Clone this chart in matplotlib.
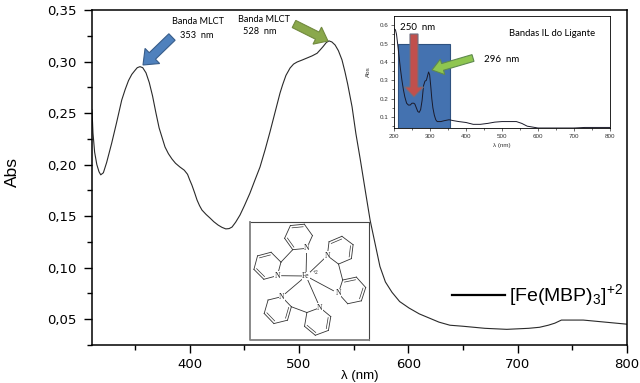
import numpy as np
import matplotlib
matplotlib.use('Agg')
import matplotlib.pyplot as plt
from matplotlib.patches import Rectangle, FancyArrow

# main spectrum
wl = [310.6, 311.5, 313, 315, 317, 318.6, 321, 324, 328.6, 333, 337.8, 341, 344, 347, 350, 352, 354.5, 357, 360, 363, 366, 369, 372,
      377.4, 380.5, 383.8, 387, 391, 395, 398, 400, 402, 404.5, 406.7, 409, 411.2, 415, 418.6, 422, 426, 429.5, 433, 436, 438.7, 442, 446, 450,
      455, 459.5, 464.3, 469, 473.4, 478, 482.6, 485, 488, 491.8, 495, 498.2, 503, 507.3, 512, 516.5, 519.5, 522, 525, 527.4, 530, 533, 536,
      539.3, 542, 544.5, 548.5, 552, 556, 561, 565, 570, 574, 579, 585, 592, 600.6, 610, 619, 628,
      638, 650, 660, 670, 680, 690, 700, 710, 720, 728, 734, 740, 750, 760, 770, 780, 790, 800]
abs_main = [0.253, 0.2306, 0.212, 0.200, 0.193, 0.190, 0.192, 0.202, 0.2207, 0.2403, 0.2626, 0.273, 0.2815, 0.2875, 0.2915, 0.2940, 0.295, 0.2940, 0.2890, 0.2795, 0.2665, 0.2505, 0.2355,
            0.217, 0.2105, 0.2053, 0.2012, 0.1976, 0.1945, 0.1905, 0.185, 0.180, 0.1725, 0.1655, 0.160, 0.1558, 0.1515, 0.148, 0.1445, 0.1412, 0.139, 0.1375, 0.1378, 0.1393, 0.144, 0.151, 0.160,
            0.172, 0.1845, 0.1976, 0.2145, 0.2316, 0.2505, 0.2694, 0.2775, 0.2865, 0.2937, 0.2975, 0.2995, 0.3015, 0.3034, 0.3055, 0.308, 0.3115, 0.3145, 0.3185, 0.320, 0.319, 0.316, 0.3105,
            0.3015, 0.290, 0.278, 0.256, 0.230, 0.205, 0.172, 0.146, 0.121, 0.101, 0.086, 0.076, 0.067, 0.0607, 0.055, 0.051, 0.047,
            0.044, 0.043, 0.042, 0.041, 0.0405, 0.040, 0.0405, 0.041, 0.042, 0.044, 0.046, 0.049, 0.049, 0.049, 0.048, 0.047, 0.046, 0.045]

# inset spectrum
wl_ins = [200, 204, 207, 210, 214, 218, 222, 226, 230, 235, 240, 245, 250, 255, 258, 262, 266, 270, 274, 278, 282, 286, 290,
          296, 299, 302, 305, 308, 312, 316, 320, 330, 340, 353, 365, 380, 400, 420, 440, 460, 480, 500, 520, 540, 555, 570, 585,
          600, 650, 700, 730, 800]
abs_ins = [0.58, 0.575, 0.55, 0.50, 0.43, 0.36, 0.30, 0.25, 0.21, 0.175, 0.165, 0.165, 0.175, 0.175, 0.17, 0.15, 0.13, 0.125, 0.14, 0.19, 0.27, 0.295, 0.30,
           0.345, 0.33, 0.27, 0.20, 0.15, 0.11, 0.085, 0.075, 0.075, 0.08, 0.085, 0.08, 0.075, 0.07, 0.06, 0.06, 0.065, 0.072, 0.075, 0.075, 0.075, 0.065, 0.05, 0.045,
           0.04, 0.04, 0.04, 0.043, 0.043]

x_ticks = [400, 500, 600, 700, 800]
x_labels = ['400', '500', '600', '700', '800']
y_ticks = [0.05, 0.10, 0.15, 0.20, 0.25, 0.30, 0.35]
y_labels = ['0,05', '0,10', '0,15', '0,20', '0,25', '0,30', '0,35']
ins_x_ticks = [200, 300, 400, 500, 600, 700, 800]
ins_y_ticks = [0.1, 0.2, 0.3, 0.4, 0.5, 0.6]

W, H = 640, 383
plt.rcParams['font.family'] = ['Liberation Sans', 'DejaVu Sans']
plt.rcParams['mathtext.default'] = 'regular'


def box(l, t, r, b):
    # pixel box -> figure fractions
    return [l / W, 1 - b / H, (r - l) / W, (b - t) / H]


fig = plt.figure(figsize=(6.4, 3.83), dpi=100)

# main plot
ax = fig.add_axes(box(92, 10, 627, 345))
ax.plot(wl, abs_main, color='#2a2a2a', lw=0.8)
ax.set_xlim(310.6, 800)
ax.set_ylim(0.0248, 0.35)
ax.set_xticks(x_ticks)
ax.set_xticklabels(x_labels, fontsize=9.5, family=['DejaVu Sans'])
ax.set_yticks(y_ticks)
ax.set_yticklabels(y_labels, fontsize=9.5, family=['DejaVu Sans'])
ax.set_xticks([350, 450, 550, 650, 750], minor=True)
ax.set_yticks([0.025, 0.075, 0.125, 0.175, 0.225, 0.275, 0.325], minor=True)
ax.tick_params(which='major', length=6, width=1, pad=5)
ax.tick_params(which='minor', length=3.8, width=1)
ax.tick_params(axis='x', which='major', pad=3.5)
for s in ax.spines.values():
    s.set_linewidth(1.1)

# inset
ins = fig.add_axes(box(394, 16, 610, 128), zorder=2)
ins.add_patch(Rectangle((211, 0.04), 144, 0.46, facecolor='#4472b0', edgecolor='#2f5280', lw=0.8, zorder=1))
ins.plot(wl_ins, abs_ins, color='#1a1a2a', lw=0.7, zorder=2)
ins.set_xlim(200, 800)
ins.set_ylim(0.04, 0.65)
ins.set_xticks(ins_x_ticks)
ins.set_yticks(ins_y_ticks)
ins.set_xticks([250, 350, 450, 550, 650, 750], minor=True)
ins.set_yticks([0.05, 0.15, 0.25, 0.35, 0.45, 0.55], minor=True)
ins.tick_params(labelsize=4.5, length=2.2, width=0.5, pad=2, colors='#333333')
ins.tick_params(which='minor', length=1.2, width=0.5, colors='#333333')
ins.set_xlabel('λ (nm)', fontsize=4.5, labelpad=3, color='#333333')
ins.set_ylabel('Abs', fontsize=4.5, labelpad=6, color='#333333')
for s in ins.spines.values():
    s.set_linewidth(0.6)

# overlay in pixel coordinates for the arrows, texts and the structure
ov = fig.add_axes([0, 0, 1, 1], zorder=3)
ov.set_xlim(0, W)
ov.set_ylim(H, 0)
ov.axis('off')
ov.patch.set_alpha(0)


def arrow(x0, y0, x1, y1, fc, ec, width=8, head=17, head_len=12):
    ov.add_patch(FancyArrow(x0, y0, x1 - x0, y1 - y0, width=width, head_width=head, head_length=head_len,
                            length_includes_head=True, facecolor=fc, edgecolor=ec, lw=0.8))


arrow(172, 37, 143, 65, '#4f81bd', '#385d8a', width=9, head=21, head_len=13)
arrow(294, 24, 328, 41, '#8aa84b', '#71893f', width=8, head=19, head_len=12)
arrow(414, 34, 414, 97, '#c0504d', '#6f6f80', width=8, head=19, head_len=10)
arrow(473, 58, 432, 70, '#8fc650', '#5f8a50', width=7, head=16, head_len=11)

label_font = ['Lato', 'DejaVu Sans']
ov.text(197.5, 21.5, 'Banda MLCT', fontsize=6.6, family=label_font, ha='center', va='center')
ov.text(196.5, 35, '353  nm', fontsize=6.6, family=label_font, ha='center', va='center')
ov.text(263.5, 19, 'Banda MLCT', fontsize=6.6, family=label_font, ha='center', va='center')
ov.text(259.5, 32, '528  nm', fontsize=6.6, family=label_font, ha='center', va='center')
ov.text(418, 27, '250  nm', fontsize=7, family=label_font, ha='center', va='center')
ov.text(552, 34, 'Bandas IL do Ligante', fontsize=6.8, family=label_font, ha='center', va='center')
ov.text(502, 60, '296  nm', fontsize=7, family=label_font, ha='center', va='center')

# axis labels
ov.text(12, 172, 'Abs', fontsize=12.5, rotation=90, ha='center', va='center')
ov.text(360, 382.5, 'λ (nm)', fontsize=9.5, ha='center', va='bottom')

# legend
ov.plot([452, 505], [295, 295], color='black', lw=1.6)
ov.text(509, 295, r'[Fe(MBP)$_3$]$^{+2}$', fontsize=14, ha='left', va='center')

# structure box, left and bottom edges are greyer in the original
ov.add_patch(Rectangle((250, 222), 119, 118, facecolor='white', edgecolor='none'))
ov.plot([250, 369, 369], [222, 222, 340], color='#444444', lw=0.8)
ov.plot([250, 250, 369], [222, 340, 340], color='#808080', lw=1.3)


def z(px, py):
    return np.array([240 + px / 3, 215 + py / 3])


def ring(center, n_pos):
    c = z(*center)
    n = z(*n_pos)
    a0 = np.arctan2(*(n - c)[::-1])
    r = 14
    c = n - r * np.array([np.cos(a0), np.sin(a0)])
    verts = [c + r * np.array([np.cos(a0 + i * np.pi / 3), np.sin(a0 + i * np.pi / 3)]) for i in range(6)]
    for i in range(1, 5):
        p, q = verts[i], verts[i + 1]
        ov.plot([p[0], q[0]], [p[1], q[1]], color='#333333', lw=0.6)
        if i % 2 == 1:
            ov.plot([c[0] + (p[0] - c[0]) * 0.8, c[0] + (q[0] - c[0]) * 0.8],
                    [c[1] + (p[1] - c[1]) * 0.8, c[1] + (q[1] - c[1]) * 0.8], color='#333333', lw=0.5)
    for q in (verts[1], verts[5]):
        ov.plot([n[0], q[0]], [n[1], q[1]], color='#333333', lw=0.6)
    return verts


fe = z(198, 183)
n_sites = [(200, 100), (112, 182), (262, 122), (295, 235), (125, 245), (240, 278)]
ring_centers = [(175, 65), (80, 150), (302, 105), (342, 225), (112, 290), (232, 325)]
ligands = [(0, 1), (2, 3), (4, 5)]

all_verts = [ring(c, n) for c, n in zip(ring_centers, n_sites)]
for a, b in ligands:
    pairs = [(np.linalg.norm(p - q), p, q) for p in all_verts[a] for q in all_verts[b]]
    _, p, q = min(pairs, key=lambda t: t[0])
    ov.plot([p[0], q[0]], [p[1], q[1]], color='#333333', lw=0.6)
for site in n_sites:
    n = z(*site)
    s = fe + (n - fe) * 0.12
    e = fe + (n - fe) * 0.85
    ov.plot([s[0], e[0]], [s[1], e[1]], color='#333333', lw=0.6)
    ov.text(n[0], n[1], 'N', fontsize=5.5, family='Liberation Serif', ha='center', va='center', color='#222222',
            bbox=dict(facecolor='white', edgecolor='none', pad=0.2))
ov.text(fe[0], fe[1], 'Fe', fontsize=5.5, family='Liberation Serif', ha='center', va='center', color='#222222',
        bbox=dict(facecolor='white', edgecolor='none', pad=0.2))
ov.text(fe[0] + 7, fe[1] - 3, '+2', fontsize=4, family='Liberation Serif', ha='left', va='center', color='#222222')

fig.savefig('out.png', dpi=100)
